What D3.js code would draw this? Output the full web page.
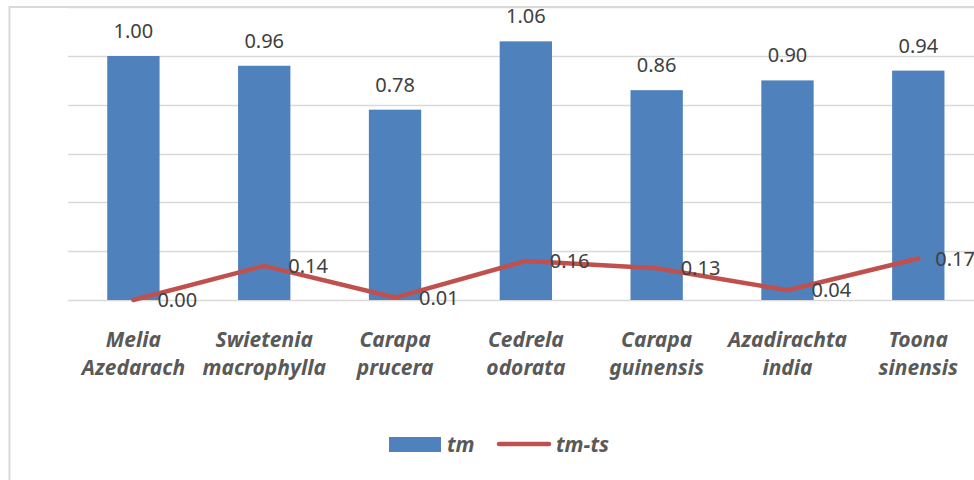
<!DOCTYPE html>
<html>
<head>
<meta charset="utf-8">
<script src="https://cdn.jsdelivr.net/npm/d3@7"></script>
<style>
  html, body { margin: 0; padding: 0; background: #fff; }
  svg { display: block; }
</style>
</head>
<body>
<svg id="chart" width="974" height="480"></svg>
<script>
// Species (two-line labels), tm bar values and tm-ts line values
const speciesLine1 = ["Melia", "Swietenia", "Carapa", "Cedrela", "Carapa", "Azadirachta", "Toona"];
const speciesLine2 = ["Azedarach", "macrophylla", "prucera", "odorata", "guinensis", "india", "sinensis"];
const tmValues = [1.00, 0.96, 0.78, 1.06, 0.86, 0.90, 0.94];
const tmTsValues = [0.00, 0.14, 0.01, 0.16, 0.13, 0.04, 0.17];
const gridTicks = [0, 0.2, 0.4, 0.6, 0.8, 1.0, 1.2];
const seriesNames = ["tm", "tm-ts"];

const W = 974, H = 480;
const svg = d3.select("#chart");
const BLUE = "#4F81BD", RED = "#C0504D";
const FONT = "'Noto Sans', 'Open Sans', sans-serif";

// chart frame
svg.append("rect")
  .attr("x", 9.5).attr("y", 7)
  .attr("width", 1000).attr("height", 520)
  .attr("fill", "#fff")
  .attr("stroke", "#D9D9D9").attr("stroke-width", 2);

const keys = d3.range(speciesLine1.length);
const x = d3.scaleBand()
  .domain(keys)
  .range([68, 983.7])
  .paddingInner(0.6)
  .paddingOuter(0.3);

const y = d3.scaleLinear().domain([0, 1.2]).range([300, 7.2]);

// horizontal gridlines
svg.append("g").selectAll("line")
  .data(gridTicks)
  .join("line")
  .attr("x1", 68).attr("x2", 990)
  .attr("y1", d => Math.round(y(d)) + 0.5)
  .attr("y2", d => Math.round(y(d)) + 0.5)
  .attr("stroke", "#D9D9D9").attr("stroke-width", 1.5);

// tm bars
svg.append("g").selectAll("rect")
  .data(tmValues)
  .join("rect")
  .attr("x", (d, i) => x(i))
  .attr("y", d => y(d))
  .attr("width", x.bandwidth())
  .attr("height", d => y(0) - y(d))
  .attr("fill", BLUE);

// bar value labels
svg.append("g").selectAll("text")
  .data(tmValues)
  .join("text")
  .attr("x", (d, i) => x(i) + x.bandwidth() / 2)
  .attr("y", d => y(d) - 18)
  .attr("text-anchor", "middle")
  .attr("font-family", FONT)
  .attr("font-size", 20)
  .attr("fill", "#404040")
  .text(d => d.toFixed(2));

// tm-ts line
const cx = i => x(i) + x.bandwidth() / 2;
const line = d3.line().x((d, i) => cx(i)).y(d => y(d));
svg.append("path")
  .datum(tmTsValues)
  .attr("d", line)
  .attr("fill", "none")
  .attr("stroke", RED)
  .attr("stroke-width", 4.5)
  .attr("stroke-linejoin", "round")
  .attr("stroke-linecap", "round");

// line value labels, to the right of each point
const lineLabels = svg.append("g").selectAll("text")
  .data(tmTsValues)
  .join("text")
  .attr("y", d => y(d) + 7)
  .attr("font-family", FONT)
  .attr("font-size", 20)
  .attr("fill", "#404040")
  .text(d => d.toFixed(2));
lineLabels.each(function (d, i) {
  const w = this.getComputedTextLength();
  const left = Math.min(cx(i) + 24, W - w + 1);
  d3.select(this).attr("x", left);
});

// category labels (two lines, bold italic)
const cats = svg.append("g").selectAll("text")
  .data(keys)
  .join("text")
  .attr("text-anchor", "middle")
  .attr("font-family", FONT)
  .attr("font-size", 21)
  .attr("font-weight", "bold")
  .attr("font-style", "italic")
  .attr("fill", "#595959");
cats.append("tspan").attr("x", i => cx(i)).attr("y", 347).text(i => speciesLine1[i]);
cats.append("tspan").attr("x", i => cx(i)).attr("y", 375).text(i => speciesLine2[i]);

// legend
const legend = svg.append("g");
legend.append("rect")
  .attr("x", 389).attr("y", 437).attr("width", 52).attr("height", 15)
  .attr("fill", BLUE);
legend.append("text")
  .attr("x", 447).attr("y", 452)
  .attr("font-family", FONT).attr("font-size", 21)
  .attr("font-weight", "bold").attr("font-style", "italic")
  .attr("fill", "#595959")
  .text(seriesNames[0]);
legend.append("line")
  .attr("x1", 499).attr("x2", 549).attr("y1", 444).attr("y2", 444)
  .attr("stroke", RED).attr("stroke-width", 4.5).attr("stroke-linecap", "round");
legend.append("text")
  .attr("x", 556).attr("y", 452)
  .attr("font-family", FONT).attr("font-size", 21)
  .attr("font-weight", "bold").attr("font-style", "italic")
  .attr("fill", "#595959")
  .text(seriesNames[1]);
</script>
</body>
</html>
